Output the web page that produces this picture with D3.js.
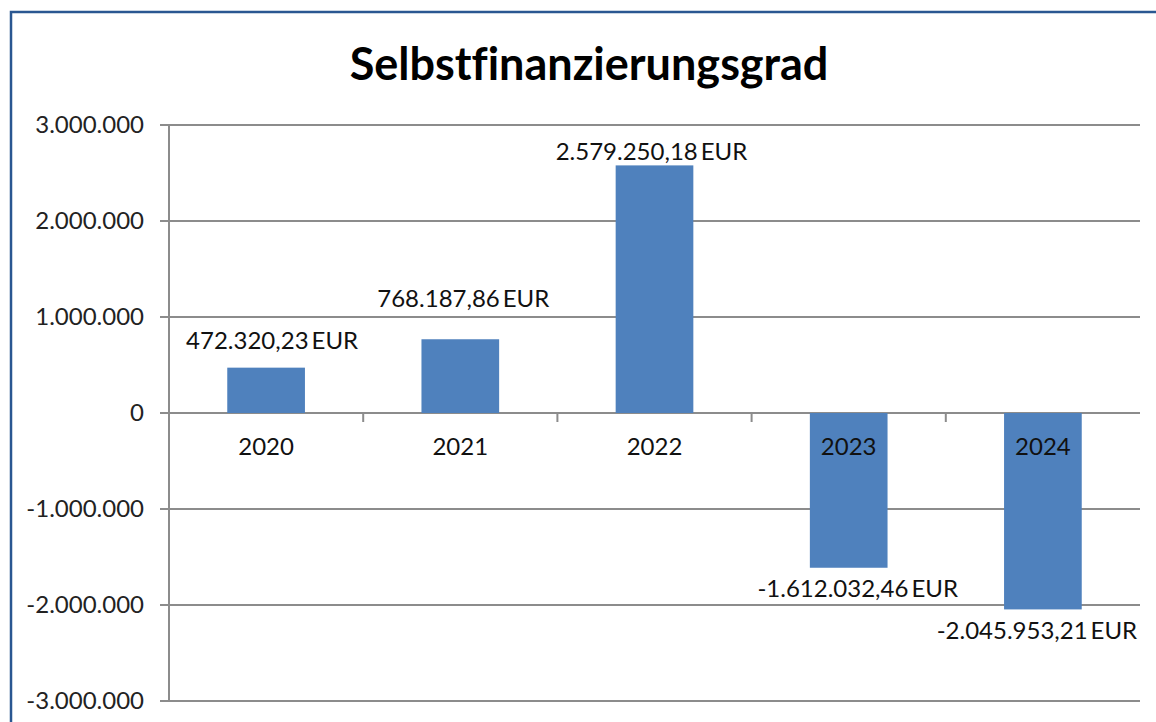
<!DOCTYPE html>
<html><head><meta charset="utf-8">
<script src="https://cdn.jsdelivr.net/npm/d3@7"></script>
<style>body{margin:0;background:#fff;}svg{display:block;}text{font-family:Lato,"Open Sans",sans-serif;font-variant-ligatures:none;font-feature-settings:"liga" 0;}</style>
</head><body>
<svg id="c" width="1156" height="722"></svg>
<script>
const title = "Selbstfinanzierungsgrad";
const categories = ["2020","2021","2022","2023","2024"];
const values = [472320.23, 768187.86, 2579250.18, -1612032.46, -2045953.21];
const yTicks = [3000000, 2000000, 1000000, 0, -1000000, -2000000, -3000000];
const labelDx = [6, 3, -3, 9, -6];
const labelDy = [-27, -41, -14, 21, 21];

const svg = d3.select("#c");
const W = 1156, H = 722;
const m = {left:169, right:1140, top:125, bottom:701};
svg.append("rect").attr("x",0).attr("y",0).attr("width",W).attr("height",H).attr("fill","#fff");
// frame
svg.append("path").attr("d","M11,722V12H1156").attr("fill","none").attr("stroke","#2a5791").attr("stroke-width",2.5);

const x = d3.scaleBand().domain(categories).range([m.left,m.right]).paddingInner(0.6).paddingOuter(0.3);
const xb = d3.scaleBand().domain(categories).range([m.left,m.right]);
const y = d3.scaleLinear().domain([-3000000,3000000]).range([m.bottom,m.top]);
const fmt = d3.formatLocale({decimal:",",thousands:".",grouping:[3],currency:["",""],minus:"-"});
const fTick = fmt.format(",.0f");
const fVal = v => fmt.format(",.2f")(v) + "\u2009EUR";

svg.append("text").attr("x",589).attr("y",80).attr("text-anchor","middle")
  .attr("font-size",45).attr("font-weight","bold").attr("fill","#000").text(title);

// gridlines
svg.append("g").selectAll("line").data(yTicks).join("line")
  .attr("x1",m.left-9).attr("x2",m.right).attr("y1",d=>y(d)).attr("y2",d=>y(d))
  .attr("stroke","#8c8c8c").attr("stroke-width",2);
// y axis line
svg.append("line").attr("x1",m.left).attr("x2",m.left).attr("y1",m.top).attr("y2",m.bottom)
  .attr("stroke","#8c8c8c").attr("stroke-width",2);
svg.append("g").selectAll("text").data(yTicks).join("text")
  .attr("x",144).attr("y",d=>y(d)).attr("dy","0.35em").attr("text-anchor","end")
  .attr("font-size",24).attr("fill","#222").text(d=>fTick(d));

// bars
svg.append("g").selectAll("rect").data(values).join("rect")
  .attr("x",(d,i)=>x(categories[i])).attr("width",x.bandwidth())
  .attr("y",d=>y(Math.max(0,d))).attr("height",d=>Math.abs(y(d)-y(0)))
  .attr("fill","#4f81bd");

// category ticks
svg.append("g").selectAll("line").data(categories.slice(1)).join("line")
  .attr("x1",d=>xb(d)).attr("x2",d=>xb(d)).attr("y1",y(0)).attr("y2",y(0)+9)
  .attr("stroke","#8c8c8c").attr("stroke-width",2);
// category labels
svg.append("g").selectAll("text").data(categories).join("text")
  .attr("x",d=>x(d)+x.bandwidth()/2).attr("y",y(0)+42).attr("text-anchor","middle")
  .attr("font-size",24).attr("fill","#111").text(d=>d);

// value labels
svg.append("g").selectAll("text").data(values).join("text")
  .attr("x",(d,i)=>x(categories[i])+x.bandwidth()/2+labelDx[i])
  .attr("y",(d,i)=>y(d)+labelDy[i]).attr("dy","0.35em").attr("text-anchor","middle")
  .attr("font-size",24).attr("fill","#111").text(d=>fVal(d));
</script>
</body></html>
